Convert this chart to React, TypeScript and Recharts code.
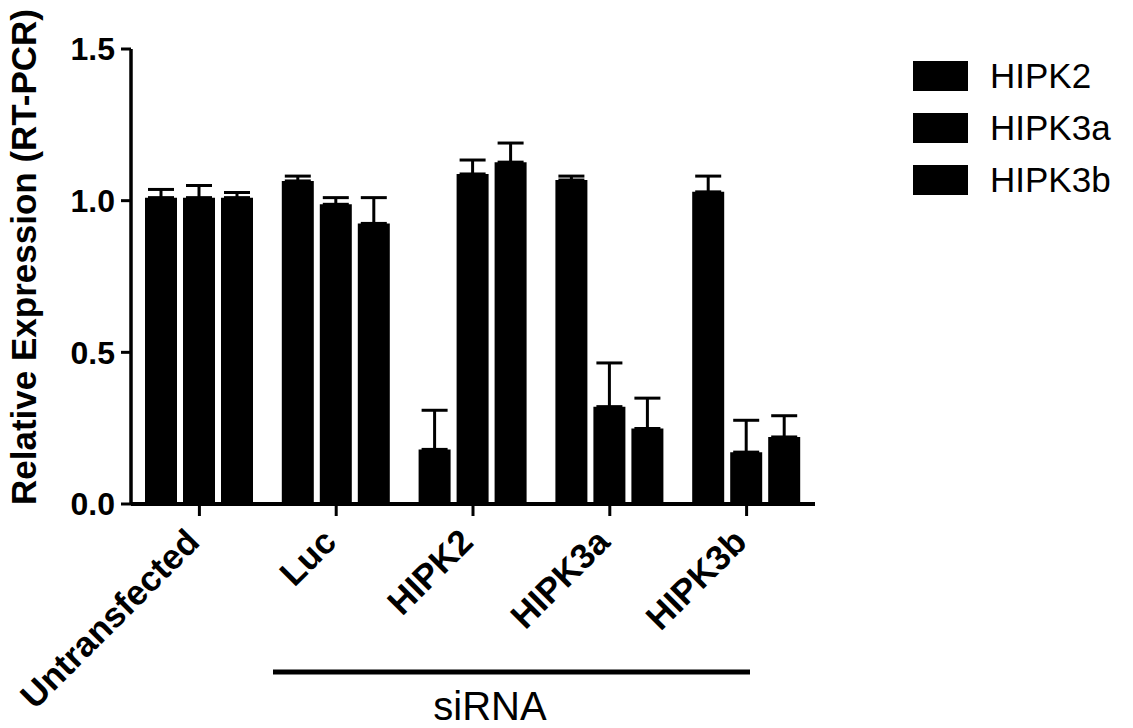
import { BarChart, Bar, XAxis, YAxis, ErrorBar, Legend } from 'recharts'

const groups = ['Untransfected', 'Luc', 'HIPK2', 'HIPK3a', 'HIPK3b']
const seriesNames = ['HIPK2', 'HIPK3a', 'HIPK3b']
const hipk2 = [1.01, 1.065, 0.18, 1.068, 1.029]
const hipk2Err = [0.027, 0.016, 0.129, 0.013, 0.052]
const hipk3a = [1.01, 0.988, 1.088, 0.321, 0.171]
const hipk3aErr = [0.04, 0.022, 0.046, 0.144, 0.105]
const hipk3b = [1.01, 0.925, 1.127, 0.249, 0.221]
const hipk3bErr = [0.017, 0.085, 0.063, 0.1, 0.07]
const yTicks = [0, 0.5, 1.0, 1.5]

// upper-only error bars: [below, above]
const data = groups.map((name, i) => ({
  name,
  hipk2: hipk2[i],
  hipk2Err: [0, hipk2Err[i]],
  hipk3a: hipk3a[i],
  hipk3aErr: [0, hipk3aErr[i]],
  hipk3b: hipk3b[i],
  hipk3bErr: [0, hipk3bErr[i]],
}))

const FONT = '"Liberation Sans", Arial, Helvetica, sans-serif'

function XTick({ x, y, payload }: any) {
  const ax = x + 2
  const ay = y + 26
  return (
    <text x={ax} y={ay} transform={`rotate(-45 ${ax} ${ay})`} textAnchor="end"
      fontFamily={FONT} fontSize={35} fontWeight="bold" fill="#000">
      {payload.value}
    </text>
  )
}

function LegendBox() {
  return (
    <div style={{ fontFamily: FONT }}>
      {seriesNames.map(s => (
        <div key={s} style={{ display: 'flex', alignItems: 'center', height: 52 }}>
          <div style={{ width: 55, height: 30, background: '#000' }} />
          <span style={{ marginLeft: 22, fontSize: 35, color: '#000' }}>{s}</span>
        </div>
      ))}
    </div>
  )
}

export default function App() {
  return (
    <div style={{ position: 'absolute', left: 0, top: 0, width: 1133, height: 728, background: '#fff' }}>
      <BarChart width={1133} height={728} data={data}
        margin={{ top: 49, right: 318, bottom: 194, left: 0 }}
        barCategoryGap={14} barGap={6}>
        <YAxis width={131} domain={[0, 1.5]} ticks={yTicks} interval={0}
          tickFormatter={(v: number) => v.toFixed(1)}
          tick={{ fontSize: 32, fontWeight: 'bold', fill: '#000', fontFamily: FONT }}
          tickSize={10} tickMargin={6}
          axisLine={{ stroke: '#000', strokeWidth: 3.5 }}
          tickLine={{ stroke: '#000', strokeWidth: 3 }} />
        <XAxis dataKey="name" tick={<XTick />} interval={0} tickSize={12} height={30}
          axisLine={{ stroke: '#000', strokeWidth: 4 }}
          tickLine={{ stroke: '#000', strokeWidth: 3 }} />
        <Legend content={() => <LegendBox />} layout="vertical" align="center" verticalAlign="middle"
          wrapperStyle={{ left: 913, top: 50, width: 220 }} />
        <Bar dataKey="hipk2" name="HIPK2" fill="#000" isAnimationActive={false}>
          <ErrorBar dataKey="hipk2Err" width={13} strokeWidth={3} stroke="#000" direction="y" />
        </Bar>
        <Bar dataKey="hipk3a" name="HIPK3a" fill="#000" isAnimationActive={false}>
          <ErrorBar dataKey="hipk3aErr" width={13} strokeWidth={3} stroke="#000" direction="y" />
        </Bar>
        <Bar dataKey="hipk3b" name="HIPK3b" fill="#000" isAnimationActive={false}>
          <ErrorBar dataKey="hipk3bErr" width={13} strokeWidth={3} stroke="#000" direction="y" />
        </Bar>
      </BarChart>
      <svg width={1133} height={728} style={{ position: 'absolute', left: 0, top: 0, pointerEvents: 'none' }}>
        <text x={36} y={257} transform="rotate(-90 36 257)" textAnchor="middle"
          fontFamily={FONT} fontSize={35} fontWeight="bold" fill="#000">
          Relative Expression (RT-PCR)
        </text>
        <line x1={273} x2={750} y1={672} y2={672} stroke="#000" strokeWidth={5} />
        <text x={490} y={720} textAnchor="middle" fontFamily={FONT} fontSize={40} fill="#000">
          siRNA
        </text>
      </svg>
    </div>
  )
}
